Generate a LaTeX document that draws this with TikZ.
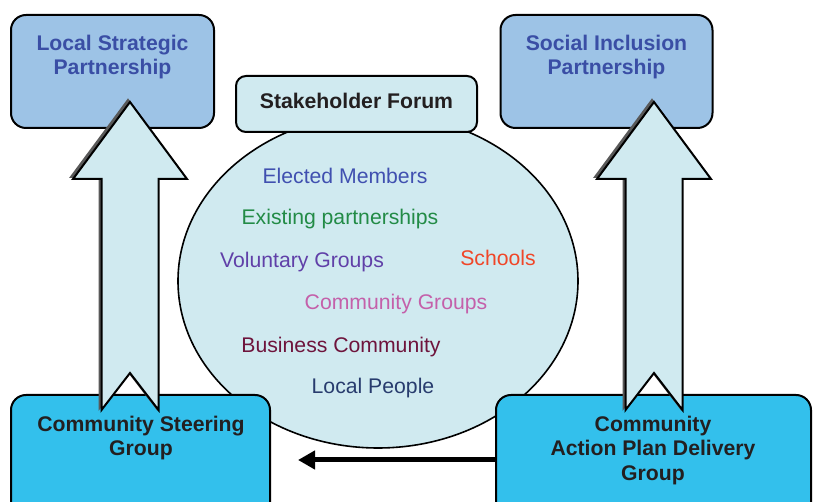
\documentclass[tikz,border=0pt]{standalone}
\usepackage{fontspec}
\setmainfont{Liberation Sans}
\usepackage{xcolor}
\definecolor{ColTop}{RGB}{157,195,230}
\definecolor{ColLight}{RGB}{208,234,240}
\definecolor{ColBottom}{RGB}{51,192,236}
\definecolor{ColTitle}{RGB}{58,78,165}
\definecolor{ColDark}{RGB}{35,31,32}
\usepackage{tikz}
\usetikzlibrary{shapes}
\usetikzlibrary{arrows.meta}
\tikzstyle{Box}=[draw=black,line width=1pt,rounded corners=7.5pt,inner sep=0pt]
\tikzstyle{TopBox}=[Box,fill=ColTop,minimum width=106pt,minimum height=56.5pt]
\tikzstyle{BottomBox}=[Box,fill=ColBottom,minimum height=65pt]
\tikzstyle{Forum}=[Box,fill=ColLight,minimum width=120.5pt,minimum height=28pt,
rounded corners=5pt,font=\fontsize{10.6}{12.3}\selectfont\bfseries,text=ColDark,
text depth=3pt]
\tikzstyle{Circle}=[ellipse,draw=black,line width=.8pt,fill=ColLight,
minimum width=200pt,minimum height=167pt,inner sep=0pt]
\tikzstyle{Title}=[align=center,font=\fontsize{10.6}{12.3}\selectfont\bfseries,inner sep=0pt]
\tikzstyle{Member}=[font=\fontsize{10.6}{12.3}\selectfont,inner sep=0pt]
\tikzstyle{BigArrow}=[draw=black,line width=1pt,fill=ColLight,line join=miter]
\tikzstyle{Shade}=[draw=black!65,line width=1pt,fill=black!65,line join=miter]
\tikzstyle{Flow}=[draw=black,line width=2.5pt,-{Triangle[length=8.5pt,width=9pt]}]
\newcommand{\UpArrow}[2]{%
  \draw[#1](#2,102)--(#2+57,179)--(#2+28.5,179)--(#2+28.5,410)--(#2,373)
  --(#2-28.5,410)--(#2-28.5,179)--(#2-57,179)--cycle;}

\begin{document}
\begin{tikzpicture}[x=.5pt,y=-.5pt]
        \clip(0,0)rectangle(816,502);
        \node[Circle](forumcircle)at(378,281){};
        \node[Forum](forum)at(356.5,104){Stakeholder Forum};
        \node[Member,text={rgb,255:red,64;green,80;blue,176}](elected)at(345,176){Elected Members};
        \node[Member,text={rgb,255:red,34;green,139;blue,70}](existing)at(340,219){Existing partnerships};
        \node[Member,text={rgb,255:red,96;green,64;blue,168}](voluntary)at(302,262){Voluntary Groups};
        \node[Member,text={rgb,255:red,240;green,70;blue,40}](schools)at(498,258){Schools};
        \node[Member,text={rgb,255:red,196;green,96;blue,170}](groups)at(396,304){Community Groups};
        \node[Member,text={rgb,255:red,110;green,20;blue,60}](business)at(341,347){Business Community};
        \node[Member,text={rgb,255:red,40;green,60;blue,110}](people)at(373,388){Local People};
        \node[TopBox,minimum width=101.5pt](lsp)at(112.5,71.5){};
        \node[TopBox](sip)at(606.5,71.5){};
        \node[Title,text=ColTitle](lsptext)at(112.5,57){Local Strategic\\Partnership};
        \node[Title,text=ColTitle](siptext)at(606.5,57){Social Inclusion\\Partnership};
        \node[BottomBox,minimum width=129.5pt](csg)at(140.5,460){};
        \node[BottomBox,minimum width=157.5pt](capdg)at(653.5,460){};
        \node[Title,text=ColDark](csgtext)at(141,438){Community Steering\\Group};
        \node[Title,text=ColDark](capdgtext)at(653,450.5){Community\\Action Plan Delivery\\Group};
        \begin{scope}[xshift=-1pt,yshift=1pt]
        \UpArrow{Shade}{130}
        \UpArrow{Shade}{654}
        \end{scope}
        \UpArrow{BigArrow}{130}
        \UpArrow{BigArrow}{654}
        \coordinate(tip)at(298,460);
        \draw[Flow](capdg.west)--(tip);
    \end{tikzpicture}
\end{document}
